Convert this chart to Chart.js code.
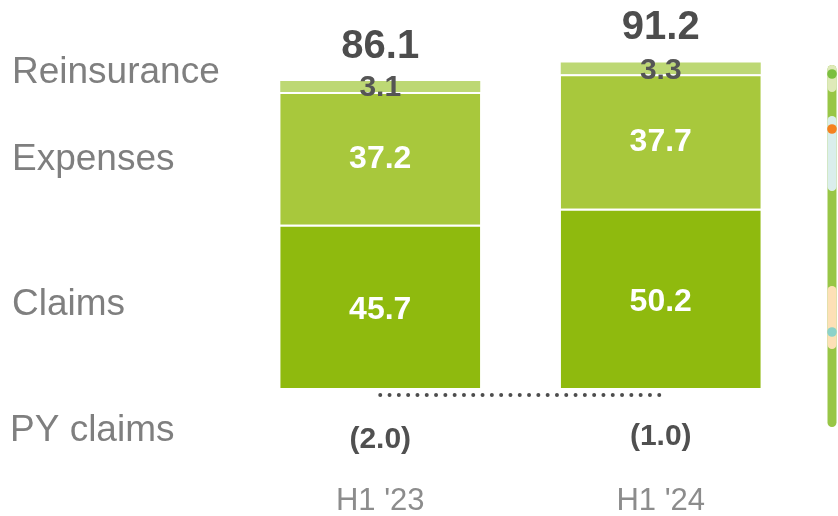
<!DOCTYPE html>
<html>
<head>
<meta charset="utf-8">
<title>Cost breakdown H1 '23 vs H1 '24</title>
<script src="https://cdn.jsdelivr.net/npm/chart.js@4.4.1/dist/chart.umd.min.js"></script>
<style>
    html, body { margin: 0; padding: 0; background: #fff; }
    #chart { display: block; }
</style>
</head>
<body>
<canvas id="chart" width="838" height="516"></canvas>
<script>
// Data
const periods = ["H1 '23", "H1 '24"];
const claims = [45.7, 50.2];
const expenses = [37.2, 37.7];
const reinsurance = [3.1, 3.3];
const totals = [86.1, 91.2];
const pyClaims = [-2.0, -1.0];
const seriesNames = ['Claims', 'Expenses', 'Reinsurance', 'PY claims'];

const FONT = '"Liberation Sans", Arial, Helvetica, sans-serif';

// Side labels, value labels, totals, PY claims row and category names
const annotations = {
    id: 'annotations',
    afterDatasetsDraw(chart) {
        const ctx = chart.ctx;
        const xs = chart.scales.x;
        ctx.save();
        ctx.textAlign = 'center';
        ctx.textBaseline = 'middle';

        chart.data.datasets.forEach((ds, i) => {
            const meta = chart.getDatasetMeta(i);
            meta.data.forEach((bar, j) => {
                const p = bar.getProps(['x', 'y', 'base'], true);
                const cy = (p.y + p.base) / 2;
                let dy = 1;
                if (ds.label === 'Reinsurance') {
                    ctx.font = 'bold 30px ' + FONT;
                    ctx.fillStyle = '#555555';
                    dy = 1 + j;
                } else {
                    ctx.font = 'bold 32px ' + FONT;
                    ctx.fillStyle = '#ffffff';
                    if (ds.label === 'Claims') dy = 4;
                }
                ctx.fillText(ds.data[j].toFixed(1), p.x, cy + dy);
            });
        });

        // totals above the stacks
        const top = chart.getDatasetMeta(chart.data.datasets.length - 1);
        top.data.forEach((bar, j) => {
            ctx.font = 'bold 40px ' + FONT;
            ctx.fillStyle = '#4d4d4d';
            ctx.fillText(totals[j].toFixed(1), bar.x, bar.y - 34);
        });

        // dotted connector
        ctx.beginPath();
        ctx.setLineDash([0, 9.3]);
        ctx.lineCap = 'round';
        ctx.lineWidth = 4;
        ctx.strokeStyle = '#4d4d4d';
        ctx.moveTo(xs.getPixelForValue(0), 395);
        ctx.lineTo(xs.getPixelForValue(1) + 5, 395);
        ctx.stroke();
        ctx.setLineDash([]);

        // PY claims values
        ctx.font = 'bold 30px ' + FONT;
        ctx.fillStyle = '#505050';
        pyClaims.forEach((v, j) => {
            const txt = v < 0 ? '(' + Math.abs(v).toFixed(1) + ')' : v.toFixed(1);
            ctx.fillText(txt, xs.getPixelForValue(j), 440 - j * 3);
        });

        // category names
        ctx.font = '31px ' + FONT;
        ctx.fillStyle = '#8c8c8c';
        periods.forEach((p, j) => {
            ctx.fillText(p, xs.getPixelForValue(j), 501);
        });

        // series names on the left
        ctx.textAlign = 'left';
        ctx.font = '37px ' + FONT;
        ctx.fillStyle = '#7f7f7f';
        ctx.fillText(seriesNames[2], 12, 73);
        ctx.fillText(seriesNames[1], 12, 160);
        ctx.fillText(seriesNames[0], 12, 305);
        ctx.fillText(seriesNames[3], 10, 431);

        ctx.restore();
    }
};

// decorative progress strip on the right edge
const sideStrip = {
    id: 'sideStrip',
    afterDraw(chart) {
        const ctx = chart.ctx;
        const cx = 832;
        ctx.save();
        ctx.lineCap = 'round';
        ctx.lineWidth = 9;
        const seg = (y1, y2, c) => {
            ctx.beginPath();
            ctx.strokeStyle = c;
            ctx.moveTo(cx, y1 + 4.5);
            ctx.lineTo(cx, y2 - 4.5);
            ctx.stroke();
        };
        seg(65, 427, '#98c646');
        seg(65, 92, '#dfeab9');
        seg(116, 191, '#daeeec');
        seg(286, 349, '#fde0b6');
        const dot = (y, c) => {
            ctx.beginPath();
            ctx.fillStyle = c;
            ctx.arc(cx, y, 4.8, 0, Math.PI * 2);
            ctx.fill();
        };
        dot(74, '#7cbf40');
        dot(129, '#f5821f');
        dot(332, '#8cd2c9');
        ctx.restore();
    }
};

const sep = { top: 2, right: 0, bottom: 0, left: 0 };

new Chart(document.getElementById('chart'), {
    type: 'bar',
    data: {
        labels: periods,
        datasets: [
            { label: 'Claims', data: claims, backgroundColor: '#8fba0e', borderColor: '#ffffff', borderWidth: sep, borderSkipped: false },
            { label: 'Expenses', data: expenses, backgroundColor: '#a8c83c', borderColor: '#ffffff', borderWidth: sep, borderSkipped: false },
            { label: 'Reinsurance', data: reinsurance, backgroundColor: '#bdd874', borderWidth: 0 }
        ]
    },
    options: {
        responsive: false,
        animation: false,
        layout: { padding: { left: 240, right: 37, top: 31, bottom: 128 } },
        datasets: { bar: { barPercentage: 1, categoryPercentage: 0.713 } },
        plugins: {
            legend: { display: false },
            tooltip: { enabled: false }
        },
        scales: {
            x: { stacked: true, display: false },
            y: { stacked: true, display: false, min: 0, max: 100 }
        }
    },
    plugins: [annotations, sideStrip]
});
</script>
</body>
</html>
